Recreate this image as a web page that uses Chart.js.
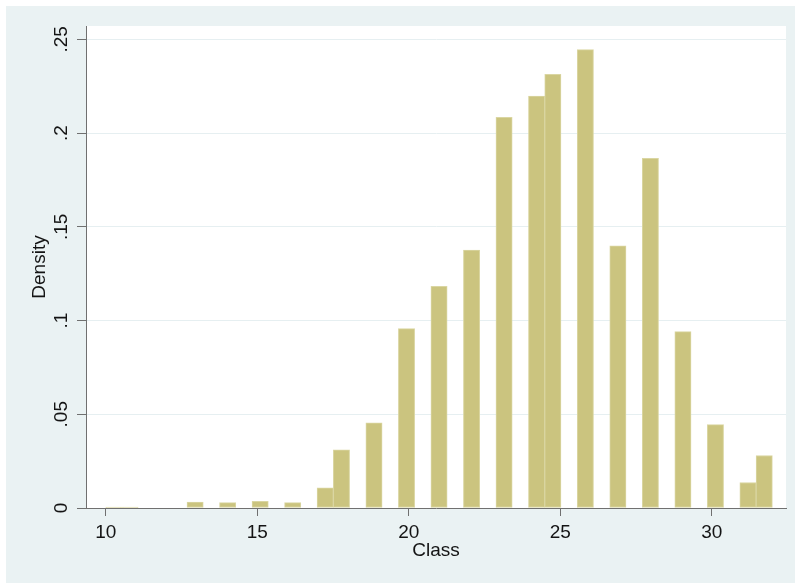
<!DOCTYPE html>
<html>
<head>
<meta charset="utf-8">
<title>Density of Class</title>
<script src="https://cdn.jsdelivr.net/npm/chart.js@4.4.1/dist/chart.umd.min.js"></script>
<style>
  html, body { margin: 0; padding: 0; background: #ffffff; }
  #wrap { width: 795px; height: 583px; }
</style>
</head>
<body>
<div id="wrap"><canvas id="hist" width="795" height="583"></canvas></div>
<script>
'use strict'

// histogram bins: 41 equal bins from 10 to 32
const binStart = 10;
const binEnd = 32;
const density = [
  0.0005, 0.0005, 0, 0, 0, 0.0032, 0, 0.0029, 0, 0.0036,
  0, 0.0029, 0, 0.0107, 0.031, 0, 0.0454, 0, 0.0957, 0,
  0.1183, 0, 0.1376, 0, 0.2084, 0, 0.2197, 0.2313, 0, 0.2445,
  0, 0.1398, 0, 0.1865, 0, 0.0941, 0, 0.0445, 0, 0.0136,
  0.028
];

const xTicks = [10, 15, 20, 25, 30];
const yTicks = [0, 0.05, 0.1, 0.15, 0.2, 0.25];
const yTickLabels = ['0', '.05', '.1', '.15', '.2', '.25'];

const binWidth = (binEnd - binStart) / density.length;
const points = density.map((d, i) => ({
  x: binStart + (i + 0.5) * binWidth,
  y: d > 0 ? d : null
}));

const fontFamily = "'Liberation Sans', Arial, Helvetica, sans-serif";
const fontSize = 19;
const axisColor = '#707070';
const textColor = '#141414';

// light blue-grey graph region, white plot region
const backgroundPlugin = {
  id: 'stataBackground',
  beforeDraw(chart) {
    const {ctx, chartArea} = chart;
    ctx.save();
    ctx.fillStyle = '#ffffff';
    ctx.fillRect(0, 0, chart.width, chart.height);
    ctx.fillStyle = '#eaf2f3';
    ctx.fillRect(6, 6, chart.width - 6, chart.height - 6);
    ctx.fillStyle = '#ffffff';
    ctx.fillRect(chartArea.left, chartArea.top, chartArea.right - chartArea.left, chartArea.bottom - chartArea.top);
    ctx.restore();
  }
};

// stata prints y labels turned sideways
const yLabelPlugin = {
  id: 'sideYLabels',
  afterDraw(chart) {
    const {ctx} = chart;
    const yScale = chart.scales.y;
    ctx.save();
    ctx.font = fontSize + 'px ' + fontFamily;
    ctx.fillStyle = textColor;
    ctx.textAlign = 'center';
    ctx.textBaseline = 'middle';
    yTicks.forEach((v, i) => {
      const py = yScale.getPixelForValue(v);
      ctx.save();
      ctx.translate(yScale.right - 24, py);
      ctx.rotate(-Math.PI / 2);
      ctx.fillText(yTickLabels[i], 0, 0);
      ctx.restore();
    });
    ctx.restore();
  }
};

new Chart(document.getElementById('hist'), {
  type: 'bar',
  data: {
    datasets: [{
      label: 'Density',
      data: points,
      backgroundColor: '#cbc47f',
      borderColor: '#dad6a2',
      borderWidth: 1,
      borderSkipped: false,
      categoryPercentage: 1,
      barPercentage: 1
    }]
  },
  options: {
    responsive: false,
    animation: false,
    devicePixelRatio: 1,
    layout: { padding: { left: 0, right: 9, top: 26, bottom: 0 } },
    plugins: {
      legend: { display: false },
      tooltip: { enabled: false }
    },
    scales: {
      x: {
        type: 'linear',
        min: 9.35,
        max: 32.45,
        offset: false,
        afterFit: s => { s.height = 75; },
        afterBuildTicks: s => { s.ticks = xTicks.map(v => ({ value: v })); },
        grid: { display: true, offset: false, drawOnChartArea: false, drawTicks: true, tickLength: 8, tickColor: axisColor, tickWidth: 1 },
        border: { display: true, color: axisColor, width: 1 },
        ticks: { color: textColor, font: { family: fontFamily, size: fontSize }, padding: 5, maxRotation: 0, minRotation: 0 },
        title: { display: true, text: 'Class', color: textColor, font: { family: fontFamily, size: fontSize }, padding: { top: 0, bottom: 21 } }
      },
      y: {
        min: 0,
        max: 0.2571,
        afterFit: s => { s.width = 86; },
        afterBuildTicks: s => { s.ticks = yTicks.map(v => ({ value: v })); },
        grid: { color: '#e6eff1', lineWidth: 1, drawTicks: true, tickLength: 9, tickColor: axisColor, tickWidth: 1 },
        border: { display: true, color: axisColor, width: 1 },
        ticks: { display: false },
        title: { display: true, text: 'Density', color: textColor, font: { family: fontFamily, size: fontSize }, padding: { top: 28, bottom: 0 } }
      }
    }
  },
  plugins: [backgroundPlugin, yLabelPlugin]
});
</script>
</body>
</html>
